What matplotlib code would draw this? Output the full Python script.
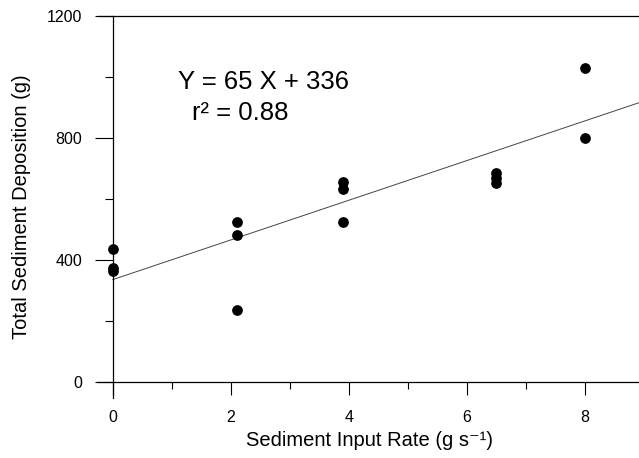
import numpy as np
import matplotlib
matplotlib.use('Agg')
import matplotlib.pyplot as plt
from matplotlib.ticker import MultipleLocator

plt.rcParams['font.family'] = ['Liberation Sans', 'DejaVu Sans']

# data
input_rate = [0, 0, 0, 2.1, 2.1, 2.1, 3.9, 3.9, 3.9, 6.5, 6.5, 6.5, 8, 8]
deposition = [436, 374, 364, 525, 482, 236, 655, 633, 525, 685, 669, 652, 1030, 800]
slope = 65
intercept = 336
fit_x = [0, 9]

fig = plt.figure(figsize=(6.39, 4.58), dpi=100)
ax = fig.add_axes([98 / 639, 60 / 458, 541 / 639, 382 / 458])

fit_y = [slope * v + intercept for v in fit_x]
ax.plot(fit_x, fit_y, color='#444444', lw=0.7)
ax.scatter(input_rate, deposition, s=45, color='black', zorder=3)

ax.set_xlim(-0.25, 8.92)
ax.set_ylim(-52, 1200)

ax.spines['left'].set_position(('data', 0))
ax.spines['bottom'].set_position(('data', 0))
ax.spines['right'].set_visible(False)
for s in ['left', 'bottom', 'top']:
    ax.spines[s].set_linewidth(0.9)

ax.xaxis.set_major_locator(MultipleLocator(2))
ax.xaxis.set_minor_locator(MultipleLocator(1))
ax.yaxis.set_major_locator(MultipleLocator(400))
ax.yaxis.set_minor_locator(MultipleLocator(200))

ax.tick_params(axis='x', which='major', direction='out', length=9, width=0.8, pad=11, labelsize=11.5)
ax.tick_params(axis='x', which='minor', direction='out', length=5, width=0.8)
ax.tick_params(axis='y', which='major', direction='out', length=13, width=0.8, pad=9, labelsize=11.5)
ax.tick_params(axis='y', which='minor', direction='out', length=6, width=0.8)

# axis labels placed in figure coords so they sit where the original has them
fig.text(369 / 639, 1 - 441 / 458, 'Sediment Input Rate (g s⁻¹)', ha='center', va='center', fontsize=14.5)
fig.text(22 / 639, 1 - 207 / 458, 'Total Sediment Deposition (g)', ha='center', va='center',
         rotation=90, fontsize=14.5)

ax.text(1.1, 960, 'Y = 65 X + 336', fontsize=18.5, va='baseline')
ax.text(1.34, 859, 'r² = 0.88', fontsize=18.5, va='baseline')

fig.savefig('out.png', dpi=100)
